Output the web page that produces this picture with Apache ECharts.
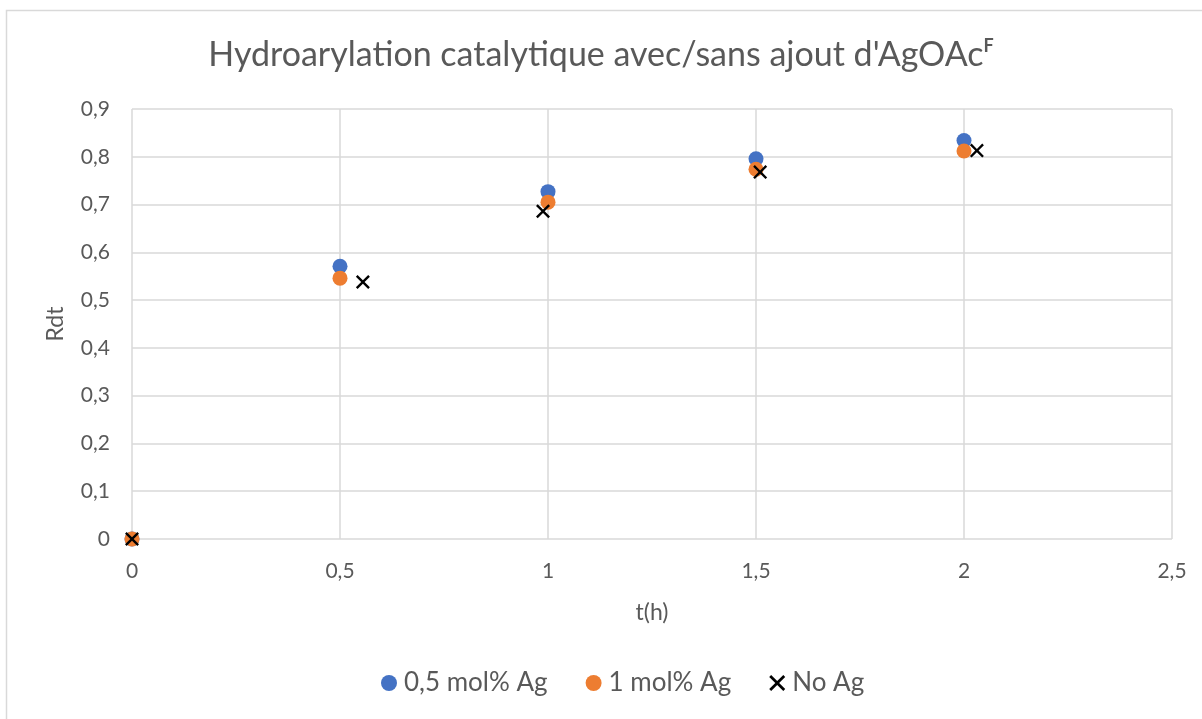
<!DOCTYPE html>
<html>
<head>
<meta charset="utf-8">
<script src="https://cdn.jsdelivr.net/npm/echarts@6/dist/echarts.min.js"></script>
<style>
  html, body { margin: 0; padding: 0; background: #fff; }
  #chart { width: 1202px; height: 719px; }
</style>
</head>
<body>
<div id="chart"></div>
<script>
// Reaction time (h) and yield for each catalyst loading
const tAg05 = [0, 0.5, 1, 1.5, 2];
const yAg05 = [0, 0.571, 0.727, 0.796, 0.834];

const tAg1 = [0, 0.5, 1, 1.5, 2];
const yAg1 = [0, 0.546, 0.705, 0.774, 0.812];

const tNoAg = [0, 0.555, 0.988, 1.51, 2.031];
const yNoAg = [0, 0.538, 0.686, 0.768, 0.813];

const seriesNames = ['0,5 mol% Ag', '1 mol% Ag', 'No Ag'];

const xTicks = [0, 0.5, 1, 1.5, 2, 2.5];
const yTicks = [0, 0.1, 0.2, 0.3, 0.4, 0.5, 0.6, 0.7, 0.8, 0.9];

const FONT = 'Lato, "Open Sans", sans-serif';
const TEXT = '#595959';
const GRID = '#d9d9d9';

const pairs = (xs, ys) => xs.map((x, i) => [x, ys[i]]);
const frLabel = v => String(+v.toFixed(2)).replace('.', ',');

// filled "x" glyph
const CROSS = 'path://M0,1.2L1.2,0L5,3.8L8.8,0L10,1.2L6.2,5L10,8.8L8.8,10L5,6.2L1.2,10L0,8.8L3.8,5Z';

const chart = echarts.init(document.getElementById('chart'), null, { renderer: 'canvas' });
chart.setOption({
  animation: false,
  backgroundColor: '#fff',
  textStyle: { fontFamily: FONT, color: TEXT },
  title: {
    text: '{a|Hydroarylation catalytique avec/sans ajout d\'AgOAc}{s|F}',
    left: 'center',
    top: 32,
    textStyle: {
      rich: {
        a: { fontFamily: FONT, fontSize: 34, color: TEXT, fontWeight: 'normal' },
        s: { fontFamily: FONT, fontSize: 18, color: TEXT, verticalAlign: 'top', padding: [0, 0, 18, 0] }
      }
    }
  },
  graphic: [{
    type: 'rect',
    shape: { x: 6.5, y: 10.5, width: 1300, height: 800 },
    style: { fill: 'none', stroke: '#d9d9d9', lineWidth: 1.5 },
    silent: true
  }],
  legend: {
    bottom: 18,
    left: 376,
    itemGap: 38,
    itemWidth: 16,
    itemHeight: 16,
    textStyle: { fontFamily: FONT, fontSize: 26, color: TEXT, padding: [0, 0, 0, 2] },
    data: [
      { name: seriesNames[0], icon: 'circle' },
      { name: seriesNames[1], icon: 'circle' },
      { name: seriesNames[2], icon: CROSS, itemStyle: { color: '#000' } }
    ]
  },
  grid: { left: 132, right: 30, top: 109, bottom: 180, containLabel: false },
  xAxis: {
    type: 'value',
    min: xTicks[0],
    max: xTicks[xTicks.length - 1],
    interval: 0.5,
    name: 't(h)',
    nameLocation: 'middle',
    nameGap: 62,
    nameTextStyle: { fontFamily: FONT, fontSize: 23, color: TEXT },
    axisLine: { show: false },
    axisTick: { show: false },
    axisLabel: { fontFamily: FONT, fontSize: 21, color: TEXT, margin: 22, formatter: frLabel },
    splitLine: { show: true, lineStyle: { color: GRID, width: 1.5 } }
  },
  yAxis: {
    type: 'value',
    min: yTicks[0],
    max: yTicks[yTicks.length - 1],
    interval: 0.1,
    name: 'Rdt',
    nameLocation: 'middle',
    nameGap: 65,
    nameRotate: 90,
    nameTextStyle: { fontFamily: FONT, fontSize: 23, color: TEXT },
    axisLine: { show: false },
    axisTick: { show: false },
    axisLabel: { fontFamily: FONT, fontSize: 21, color: TEXT, margin: 22, formatter: frLabel },
    splitLine: { show: true, lineStyle: { color: GRID, width: 1.5 } }
  },
  series: [
    {
      name: seriesNames[0],
      type: 'scatter',
      symbol: 'circle',
      symbolSize: 15,
      itemStyle: { color: '#4472C4', opacity: 1 },
      data: pairs(tAg05, yAg05),
      z: 2
    },
    {
      name: seriesNames[1],
      type: 'scatter',
      symbol: 'circle',
      symbolSize: 15,
      itemStyle: { color: '#ED7D31', opacity: 1 },
      data: pairs(tAg1, yAg1),
      z: 3
    },
    {
      name: seriesNames[2],
      type: 'scatter',
      symbol: CROSS,
      symbolSize: 14,
      itemStyle: { color: '#000', opacity: 1 },
      data: pairs(tNoAg, yNoAg),
      z: 4
    }
  ]
});
</script>
</body>
</html>
